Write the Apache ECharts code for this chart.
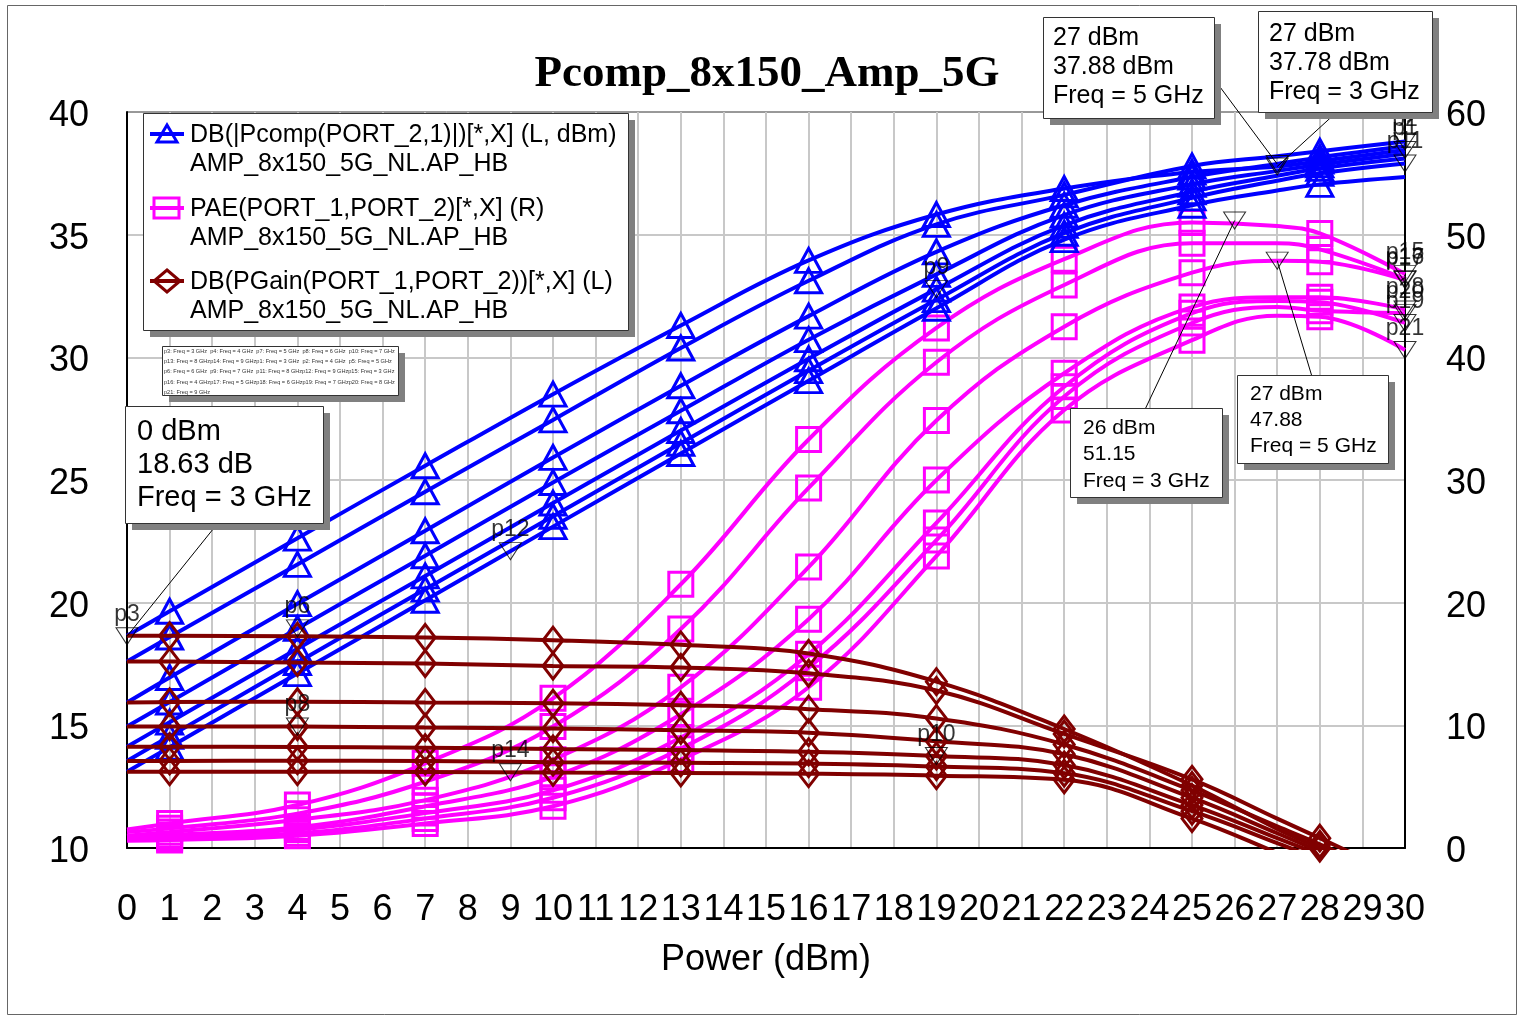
<!DOCTYPE html>
<html><head><meta charset="utf-8">
<script src="https://cdn.jsdelivr.net/npm/echarts@6/dist/echarts.min.js"></script>
<style>html,body{margin:0;padding:0;background:#fff}#c{width:1520px;height:1018px}</style>
</head><body><div id="c"></div>
<script>
// ---------------- DATA ----------------
const powerX = [0, 1, 4, 7, 10, 13, 16, 19, 22, 25, 27, 28, 30];
const markerX = [1, 4, 7, 10, 13, 16, 19, 22, 25, 28];
const freqNames = ['3 GHz', '4 GHz', '5 GHz', '6 GHz', '7 GHz', '8 GHz', '9 GHz'];
const leftTicks = [10, 15, 20, 25, 30, 35, 40];
const rightTicks = [0, 10, 20, 30, 40, 50, 60];

// DB(|Pcomp(PORT_2,1)|) [dBm], left axis
const pcomp3 = [18.65, 19.65, 22.63, 25.58, 28.50, 31.30, 33.95, 35.82, 36.88, 37.55, 37.78, 38.00, 38.45];
const pcomp4 = [17.60, 18.60, 21.56, 24.52, 27.45, 30.38, 33.12, 35.42, 36.62, 37.80, 38.20, 38.40, 38.80];
const pcomp5 = [15.93, 16.95, 19.96, 22.93, 25.92, 28.84, 31.68, 34.30, 36.20, 37.35, 37.88, 38.15, 38.60];
const pcomp6 = [14.95, 15.95, 18.95, 21.91, 24.90, 27.82, 30.72, 33.38, 35.80, 37.05, 37.60, 37.85, 38.30];
const pcomp7 = [14.13, 15.13, 18.12, 21.09, 24.06, 27.02, 29.94, 32.78, 35.38, 36.75, 37.40, 37.70, 38.10];
const pcomp8 = [13.55, 14.55, 17.56, 20.55, 23.52, 26.50, 29.46, 32.35, 35.06, 36.50, 37.20, 37.50, 37.90];
const pcomp9 = [13.11, 14.11, 17.11, 20.10, 23.10, 26.08, 29.05, 32.00, 34.80, 36.20, 36.80, 37.05, 37.35];

// PAE(PORT_1,PORT_2) [%], right axis
const pae3 = [1.5, 2.0, 3.5, 6.9, 12.2, 21.5, 33.3, 42.4, 48.0, 51.0, 50.7, 50.1, 46.8];
const pae4 = [1.3, 1.6, 2.8, 5.4, 9.9, 17.85, 29.35, 39.6, 45.9, 49.3, 49.3, 48.8, 46.4];
const pae5 = [1.0, 1.3, 2.3, 3.9, 7.2, 13.1, 22.9, 34.85, 42.5, 46.9, 47.88, 47.8, 46.3];
const pae6 = [0.9, 1.05, 1.7, 3.4, 5.8, 10.9, 18.65, 30.0, 38.7, 44.1, 44.9, 44.9, 43.9];
const pae7 = [0.8, 0.9, 1.5, 2.85, 4.7, 9.0, 15.8, 26.5, 37.6, 43.6, 44.6, 44.5, 42.8];
const pae8 = [0.7, 0.8, 1.2, 2.4, 4.1, 8.1, 14.7, 25.1, 36.8, 42.8, 44.1, 43.8, 43.6];
const pae9 = [0.6, 0.65, 1.0, 2.0, 3.4, 7.2, 13.1, 23.8, 35.7, 41.4, 43.4, 43.3, 40.6];

// DB(PGain(PORT_1,PORT_2)) [dB], left axis
const gain3 = [18.65, 18.65, 18.63, 18.58, 18.47, 18.28, 17.93, 16.78, 14.85, 12.55, 10.78, 10.00, 8.45];
const gain4 = [17.60, 17.60, 17.56, 17.52, 17.42, 17.36, 17.12, 16.42, 14.65, 12.80, 11.20, 10.40, 8.80];
const gain5 = [15.93, 15.95, 15.96, 15.93, 15.90, 15.82, 15.66, 15.28, 14.22, 12.35, 10.88, 10.15, 8.60];
const gain6 = [14.95, 14.95, 14.95, 14.91, 14.87, 14.80, 14.70, 14.35, 13.82, 12.05, 10.60, 9.85, 8.30];
const gain7 = [14.13, 14.13, 14.12, 14.09, 14.04, 13.99, 13.92, 13.75, 13.38, 11.75, 10.40, 9.70, 8.10];
const gain8 = [13.55, 13.55, 13.56, 13.55, 13.50, 13.47, 13.44, 13.32, 13.05, 11.50, 10.20, 9.50, 7.90];
const gain9 = [13.11, 13.11, 13.11, 13.10, 13.08, 13.06, 13.03, 12.95, 12.78, 11.20, 9.80, 9.05, 7.35];

// markers (left axis)
const leftMarkName = ['p3', 'p6', 'p8', 'p12', 'p14', 'p9', 'p10', 'p2', 'p1', 'p11', '', ''];
const leftMarkX = [0, 4, 4, 9, 9, 19, 19, 30, 30, 30, 27, 27];
const leftMarkY = [18.63, 18.95, 14.95, 22.10, 13.09, 32.78, 13.75, 38.80, 38.45, 37.90, 37.88, 37.78];
// markers (right axis)
const rightMarkName = ['p15', 'p16', 'p17', 'p18', 'p20', 'p19', 'p21', '', ''];
const rightMarkX = [30, 30, 30, 30, 30, 30, 30, 26, 27];
const rightMarkY = [46.8, 46.4, 46.3, 43.9, 43.6, 42.8, 40.6, 51.15, 47.88];

// callout texts
const calloutText = [
  ['0 dBm', '18.63 dB', 'Freq = 3 GHz'],
  ['27 dBm', '37.88 dBm', 'Freq = 5 GHz'],
  ['27 dBm', '37.78 dBm', 'Freq = 3 GHz'],
  ['26 dBm', '51.15', 'Freq = 3 GHz'],
  ['27 dBm', '47.88', 'Freq = 5 GHz']
];
const calloutMarkIndex = [[0, 0], [0, 10], [0, 11], [1, 7], [1, 8]]; // [axisSide, markerIndex]

const legendLines = [
  ['DB(|Pcomp(PORT_2,1)|)[*,X] (L, dBm)', 'AMP_8x150_5G_NL.AP_HB'],
  ['PAE(PORT_1,PORT_2)[*,X] (R)', 'AMP_8x150_5G_NL.AP_HB'],
  ['DB(PGain(PORT_1,PORT_2))[*,X] (L)', 'AMP_8x150_5G_NL.AP_HB']
];
const pListLines = [
  'p3: Freq = 3 GHz  p4: Freq = 4 GHz  p7: Freq = 5 GHz  p8: Freq = 6 GHz  p10: Freq = 7 GHz',
  'p13: Freq = 8 GHzp14: Freq = 9 GHzp1: Freq = 3 GHz  p2: Freq = 4 GHz  p5: Freq = 5 GHz',
  'p6: Freq = 6 GHz  p9: Freq = 7 GHz  p11: Freq = 8 GHzp12: Freq = 9 GHzp15: Freq = 3 GHz',
  'p16: Freq = 4 GHzp17: Freq = 5 GHzp18: Freq = 6 GHzp19: Freq = 7 GHzp20: Freq = 8 GHz',
  'p21: Freq = 9 GHz'
];

const pcompAll = [pcomp3, pcomp4, pcomp5, pcomp6, pcomp7, pcomp8, pcomp9];
const paeAll = [pae3, pae4, pae5, pae6, pae7, pae8, pae9];
const gainAll = [gain3, gain4, gain5, gain6, gain7, gain8, gain9];

// ---------------- CHART ----------------
const FONT = '"Liberation Sans", Arial, sans-serif';
const BLUE = '#0000FF', MAG = '#FF00FF', RED = '#800000';

function lineSeries(name, yIdx, ys, symbol, color, size, z) {
  return {
    type: 'line', name: name, yAxisIndex: yIdx, smooth: 0.4,
    color: color, z: z, clip: true, showAllSymbol: true,
    data: powerX.map((x, i) => ({ value: [x, ys[i]], symbol: markerX.indexOf(x) >= 0 ? symbol : 'none' })),
    symbolSize: size,
    lineStyle: { color: color, width: 4 },
    itemStyle: { color: 'rgba(0,0,0,0)', borderColor: color, borderWidth: 3 },
    emphasis: { disabled: true }
  };
}

const series = [];
paeAll.forEach((a, i) => series.push(lineSeries('PAE ' + freqNames[i], 1, a, 'rect', MAG, [24, 24], 2)));
pcompAll.forEach((a, i) => series.push(lineSeries('Pcomp ' + freqNames[i], 0, a, 'triangle', BLUE, [26, 24], 3)));
gainAll.forEach((a, i) => series.push(lineSeries('Gain ' + freqNames[i], 0, a, 'diamond', RED, [20, 26], 4)));

function markSeries(yIdx, names, xs, ys) {
  return {
    type: 'scatter', yAxisIndex: yIdx, z: 10, symbol: 'triangle', symbolRotate: 180, symbolSize: [22, 17],
    itemStyle: { color: 'rgba(0,0,0,0)', borderColor: '#000', borderWidth: 1 },
    label: { show: true, position: 'top', distance: 1, formatter: '{b}', fontSize: 23, fontFamily: FONT, color: '#000' },
    emphasis: { disabled: true },
    data: xs.map((x, i) => ({ name: names[i], value: [x, ys[i]] }))
  };
}
const leftMarkSeriesIndex = series.length;
series.push(markSeries(0, leftMarkName, leftMarkX, leftMarkY));
const rightMarkSeriesIndex = series.length;
series.push(markSeries(1, rightMarkName, rightMarkX, rightMarkY));

const axisLabelStyle = { fontSize: 36, color: '#000', fontFamily: FONT };
const yLabelRich = { a: { fontSize: 36, color: '#000', fontFamily: FONT, padding: [8, 0, 0, 0] } };
const option = {
  animation: false,
  backgroundColor: '#fff',
  title: {
    text: 'Pcomp_8x150_Amp_5G', left: 762, top: 47, textAlign: 'center',
    textStyle: { fontFamily: '"Liberation Serif", "Times New Roman", serif', fontWeight: 'bold', fontSize: 45, color: '#000' }
  },
  grid: { left: 127, right: 115, top: 112, bottom: 170, show: true, borderColor: '#333', borderWidth: 1, backgroundColor: '#fff' },
  xAxis: {
    type: 'value', min: 0, max: 30, interval: 1,
    name: 'Power (dBm)', nameLocation: 'middle', nameGap: 94,
    nameTextStyle: { fontSize: 36, fontFamily: FONT, color: '#000' },
    axisLine: { show: true, onZero: false, lineStyle: { color: '#000', width: 2 } },
    axisTick: { show: false },
    axisLabel: Object.assign({ margin: 44 }, axisLabelStyle),
    splitLine: { show: true, showMinLine: false, showMaxLine: false, lineStyle: { color: '#c8c8c8', width: 2 } }
  },
  yAxis: [
    {
      type: 'value', min: leftTicks[0], max: leftTicks[leftTicks.length - 1], interval: leftTicks[1] - leftTicks[0], position: 'left',
      axisLine: { show: true, lineStyle: { color: '#000', width: 2 } }, axisTick: { show: false },
      axisLabel: Object.assign({ margin: 38, formatter: v => '{a|' + v + '}', rich: yLabelRich }, axisLabelStyle),
      splitLine: { show: true, showMinLine: false, showMaxLine: false, lineStyle: { color: '#c8c8c8', width: 2 } }
    },
    {
      type: 'value', min: rightTicks[0], max: rightTicks[rightTicks.length - 1], interval: rightTicks[1] - rightTicks[0], position: 'right',
      axisLine: { show: true, lineStyle: { color: '#000', width: 2 } }, axisTick: { show: false },
      axisLabel: Object.assign({ margin: 41, formatter: v => '{a|' + v + '}', rich: yLabelRich }, axisLabelStyle),
      splitLine: { show: false }
    }
  ],
  series: series
};

const chart = echarts.init(document.getElementById('c'));
chart.setOption(option);

// ---------------- GRAPHICS (legend, boxes, callouts) ----------------
const g = [];
function txt(t, x, y, size, color, extra) {
  return Object.assign({ type: 'text', z: 120, silent: true,
    style: { text: t, x: x, y: y, font: size + 'px ' + FONT, fill: color || '#000', align: 'left', verticalAlign: 'middle' } }, extra || {});
}
function boxWithShadow(x, y, w, h, off) {
  g.push({ type: 'rect', z: 110, silent: true, shape: { x: x + off, y: y + off, width: w, height: h }, style: { fill: '#808080' } });
  g.push({ type: 'rect', z: 111, silent: true, shape: { x: x + 0.5, y: y + 0.5, width: w, height: h }, style: { fill: '#fff', stroke: '#333', lineWidth: 1 } });
}
// outer frame
g.push({ type: 'rect', z: 1, silent: true, shape: { x: 7.5, y: 5.5, width: 1509, height: 1009 }, style: { fill: 'none', stroke: '#666', lineWidth: 1 } });

// legend
boxWithShadow(143, 113, 485, 217, 7);
const legRowY = [135, 209, 282];
const legColors = [BLUE, MAG, RED];
legRowY.forEach((y, i) => {
  const c = legColors[i];
  const cy = y - 1;
  g.push({ type: 'line', z: 115, silent: true, shape: { x1: 150, y1: cy, x2: 184, y2: cy }, style: { stroke: c, lineWidth: 4 } });
  if (i === 0) g.push({ type: 'polygon', z: 116, silent: true, shape: { points: [[157, cy + 8], [177, cy + 8], [167, cy - 9]] }, style: { fill: 'none', stroke: c, lineWidth: 3 } });
  if (i === 1) g.push({ type: 'rect', z: 116, silent: true, shape: { x: 154, y: cy - 10, width: 25, height: 20 }, style: { fill: 'none', stroke: c, lineWidth: 3 } });
  if (i === 2) g.push({ type: 'polygon', z: 116, silent: true, shape: { points: [[167, cy - 11], [180, cy], [167, cy + 11], [154, cy]] }, style: { fill: 'none', stroke: c, lineWidth: 3 } });
  g.push(txt(legendLines[i][0], 190, y, 25, '#000'));
  g.push(txt(legendLines[i][1], 190, y + 29, 25, '#000'));
});

// marker list box
boxWithShadow(162, 346, 236, 49, 7);
pListLines.forEach((t, i) => g.push(txt(t, 164, 351.5 + i * 10.2, 5.6, '#333')));

// callouts: [boxX, boxY, w, h, font, lineH, textX, firstY, anchorX, anchorY]
const calloutBox = [
  [125, 406, 198, 117, 29, 33, 137, 432, 230, 508],
  [1043, 17, 171, 101, 25, 29, 1053, 38, 1200, 60],
  [1258, 11, 174, 101, 25, 29, 1269, 34, 1350, 100],
  [1070, 408, 152, 89, 21, 26.5, 1083, 428, 1140, 420],
  [1237, 375, 151, 88, 21, 26, 1250, 394, 1316, 390]
];
calloutBox.forEach((b, k) => {
  const mi = calloutMarkIndex[k];
  const sIdx = mi[0] === 0 ? leftMarkSeriesIndex : rightMarkSeriesIndex;
  const xs = mi[0] === 0 ? leftMarkX : rightMarkX;
  const ys = mi[0] === 0 ? leftMarkY : rightMarkY;
  const p = chart.convertToPixel({ seriesIndex: sIdx }, [xs[mi[1]], ys[mi[1]]]);
  g.push({ type: 'line', z: 105, silent: true, shape: { x1: b[8], y1: b[9], x2: p[0], y2: p[1] }, style: { stroke: '#000', lineWidth: 1 } });
  boxWithShadow(b[0], b[1], b[2], b[3], 7);
  calloutText[k].forEach((t, j) => g.push(txt(t, b[6], b[7] + j * b[5], b[4], '#000')));
});

chart.setOption({ graphic: { elements: g } });
</script>
</body></html>
